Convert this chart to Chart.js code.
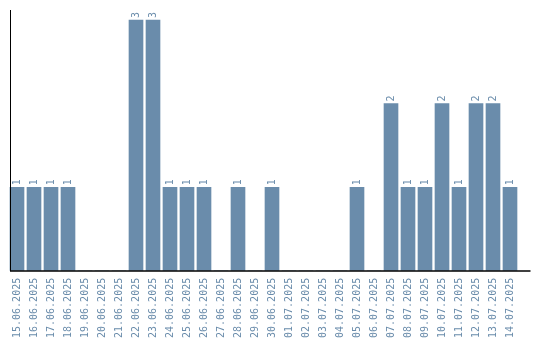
<!DOCTYPE html>
<html>
<head>
<meta charset="utf-8">
<script src="https://cdn.jsdelivr.net/npm/chart.js@4/dist/chart.umd.min.js"></script>
<style>
  html, body { margin: 0; padding: 0; background: #ffffff; }
  #wrap { width: 540px; height: 340px; position: relative; }
</style>
</head>
<body>
<div id="wrap"><canvas id="c"></canvas></div>
<script>
const categories = [
  "15.06.2025","16.06.2025","17.06.2025","18.06.2025","19.06.2025","20.06.2025",
  "21.06.2025","22.06.2025","23.06.2025","24.06.2025","25.06.2025","26.06.2025",
  "27.06.2025","28.06.2025","29.06.2025","30.06.2025","01.07.2025","02.07.2025",
  "03.07.2025","04.07.2025","05.07.2025","06.07.2025","07.07.2025","08.07.2025",
  "09.07.2025","10.07.2025","11.07.2025","12.07.2025","13.07.2025","14.07.2025"
];
const counts = [
  1,1,1,1,0,0,
  0,3,3,1,1,1,
  0,1,0,1,0,0,
  0,0,1,0,2,1,
  1,2,1,2,2,1
];
const yMax = 3.12;

const BAR = "rgb(106,140,171)";
const TEXT = "rgb(106,140,171)";
const FONT = "'DejaVu Sans Mono', 'Liberation Mono', monospace";

const axisLines = {
  id: 'axisLines',
  afterDatasetsDraw(chart) {
    const { ctx, chartArea } = chart;
    ctx.save();
    ctx.strokeStyle = '#000';
    ctx.lineWidth = 1;
    ctx.beginPath();
    ctx.moveTo(chartArea.left + 2, chartArea.top);
    ctx.lineTo(chartArea.left + 2, chartArea.bottom);
    ctx.stroke();
    ctx.lineWidth = 1.5;
    ctx.beginPath();
    ctx.moveTo(chartArea.left + 1.5, chartArea.bottom + 0.25);
    ctx.lineTo(chartArea.right + 12, chartArea.bottom + 0.25);
    ctx.stroke();
    ctx.restore();
  }
};

const valueLabels = {
  id: 'valueLabels',
  afterDatasetsDraw(chart) {
    const { ctx } = chart;
    const meta = chart.getDatasetMeta(0);
    const data = chart.data.datasets[0].data;
    ctx.save();
    ctx.fillStyle = TEXT;
    ctx.font = "10px " + FONT;
    ctx.textAlign = 'left';
    ctx.textBaseline = 'middle';
    meta.data.forEach((el, i) => {
      const v = data[i];
      if (!v) return;
      ctx.save();
      ctx.translate(el.x + 0.5, el.y - 2);
      ctx.rotate(-Math.PI / 2);
      ctx.fillText(String(v), 0, 0);
      ctx.restore();
    });
    ctx.restore();
  }
};

new Chart(document.getElementById('c'), {
  type: 'bar',
  data: {
    labels: categories,
    datasets: [{
      data: counts,
      backgroundColor: BAR,
      borderWidth: 0,
      barThickness: 14
    }]
  },
  options: {
    responsive: true,
    maintainAspectRatio: false,
    animation: false,
    layout: { padding: { left: 8.5, right: 21.5, top: 10, bottom: -5 } },
    plugins: { legend: { display: false }, tooltip: { enabled: false } },
    scales: {
      x: {
        type: 'category',
        offset: true,
        grid: { display: false, drawTicks: false },
        border: { display: false },
        ticks: {
          autoSkip: false,
          minRotation: 90,
          maxRotation: 90,
          padding: 7,
          color: TEXT,
          font: { family: FONT, size: 10 }
        }
      },
      y: {
        display: false,
        min: 0,
        max: yMax
      }
    }
  },
  plugins: [axisLines, valueLabels]
});
</script>
</body>
</html>
